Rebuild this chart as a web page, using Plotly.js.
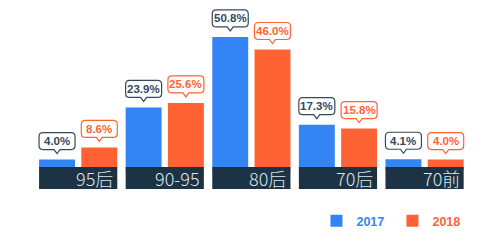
<!DOCTYPE html>
<html><head><meta charset="utf-8">
<script src="https://cdn.plot.ly/plotly-3.0.1.min.js"></script>
<style>html,body{margin:0;padding:0;background:#fff}</style>
</head><body>
<div id="chart" style="width:500px;height:245px"></div>
<script>
const categories = ['95后', '90-95', '80后', '70后', '70前'];
const values2017 = [4.0, 23.9, 50.8, 17.3, 4.1];
const values2018 = [8.6, 25.6, 46.0, 15.8, 4.0];
const seriesNames = ['2017', '2018'];

const BLUE = '#3385f5', ORANGE = '#ff6333', NAVY = '#1c3345', DARK = '#34495e';
const W = 0.415, OFF1 = -0.453, OFF2 = 0.035;

const traces = [
  {type:'bar', x:categories, y:values2017, name:'<span style="color:'+BLUE+'">'+seriesNames[0]+'</span>',
   marker:{color:BLUE}, offset:OFF1, width:W, hoverinfo:'skip'},
  {type:'bar', x:categories, y:values2018, name:'<span style="color:'+ORANGE+'">'+seriesNames[1]+'</span>',
   marker:{color:ORANGE}, offset:OFF2, width:W, hoverinfo:'skip'}
];

const shapes = [], annotations = [];
function calloutPath(yb, yt, hw, r, tip) {
  return 'M'+(-hw+r)+','+yt+' L'+(hw-r)+','+yt+' Q'+hw+','+yt+' '+hw+','+(yt-r)+
    ' L'+hw+','+(yb+r)+' Q'+hw+','+yb+' '+(hw-r)+','+yb+' L3,'+yb+' L0,'+tip+' L-3,'+yb+
    ' L'+(-hw+r)+','+yb+' Q'+(-hw)+','+yb+' '+(-hw)+','+(yb+r)+' L'+(-hw)+','+(yt-r)+
    ' Q'+(-hw)+','+yt+' '+(-hw+r)+','+yt+' Z';
}
const YB = 10, YT = 27, TIP = 6;
categories.forEach((c, i) => {
  shapes.push({type:'rect', xref:'x', yref:'y', x0:i-0.453, x1:i+0.45, y0:-7.25, y1:1.15,
    fillcolor:NAVY, line:{width:0}, layer:'above'});
  annotations.push({x:i+0.45, y:-3.05, xref:'x', yref:'y', xanchor:'right', yanchor:'middle',
    xshift:-2, text:c, showarrow:false,
    font:{family:'Noto Sans CJK SC, Noto Sans, sans-serif', size:18, color:'#dfe5ea', weight:300}});
  [[values2017, OFF1, DARK], [values2018, OFF2, ORANGE]].forEach(([vals, off, col]) => {
    const xc = i + off + W/2;
    shapes.push({type:'path', xref:'x', yref:'y', xsizemode:'pixel', ysizemode:'pixel',
      xanchor:xc, yanchor:vals[i], path:calloutPath(YB, YT, 18, 4, TIP),
      fillcolor:'#ffffff', line:{color:col, width:1.2}, layer:'above'});
    annotations.push({x:xc, y:vals[i], xref:'x', yref:'y', yshift:(YB+YT)/2, yanchor:'middle',
      xanchor:'center', showarrow:false, text:vals[i].toFixed(1)+'%',
      font:{family:'Liberation Sans, Arial, sans-serif', size:11.5, color:col, weight:700}});
  });
});

const layout = {
  width:500, height:245,
  margin:{l:35, r:32, t:5, b:50},
  paper_bgcolor:'#ffffff', plot_bgcolor:'#ffffff',
  barmode:'group',
  xaxis:{type:'category', range:[-0.5, 4.5], showticklabels:false, showgrid:false, zeroline:false, showline:false, ticks:''},
  yaxis:{range:[-9.54, 62.98], showticklabels:false, showgrid:false, zeroline:false, showline:false, ticks:''},
  showlegend:true,
  legend:{orientation:'h', x:0.650, y:-0.137, xanchor:'left', yanchor:'middle',
    entrywidth:31, entrywidthmode:'pixels',
    font:{family:'Liberation Sans, Arial, sans-serif', size:12.5, weight:700}, bgcolor:'rgba(0,0,0,0)'},
  shapes:shapes, annotations:annotations
};
Plotly.newPlot('chart', traces, layout, {displayModeBar:false, staticPlot:true});
</script>
</body></html>
